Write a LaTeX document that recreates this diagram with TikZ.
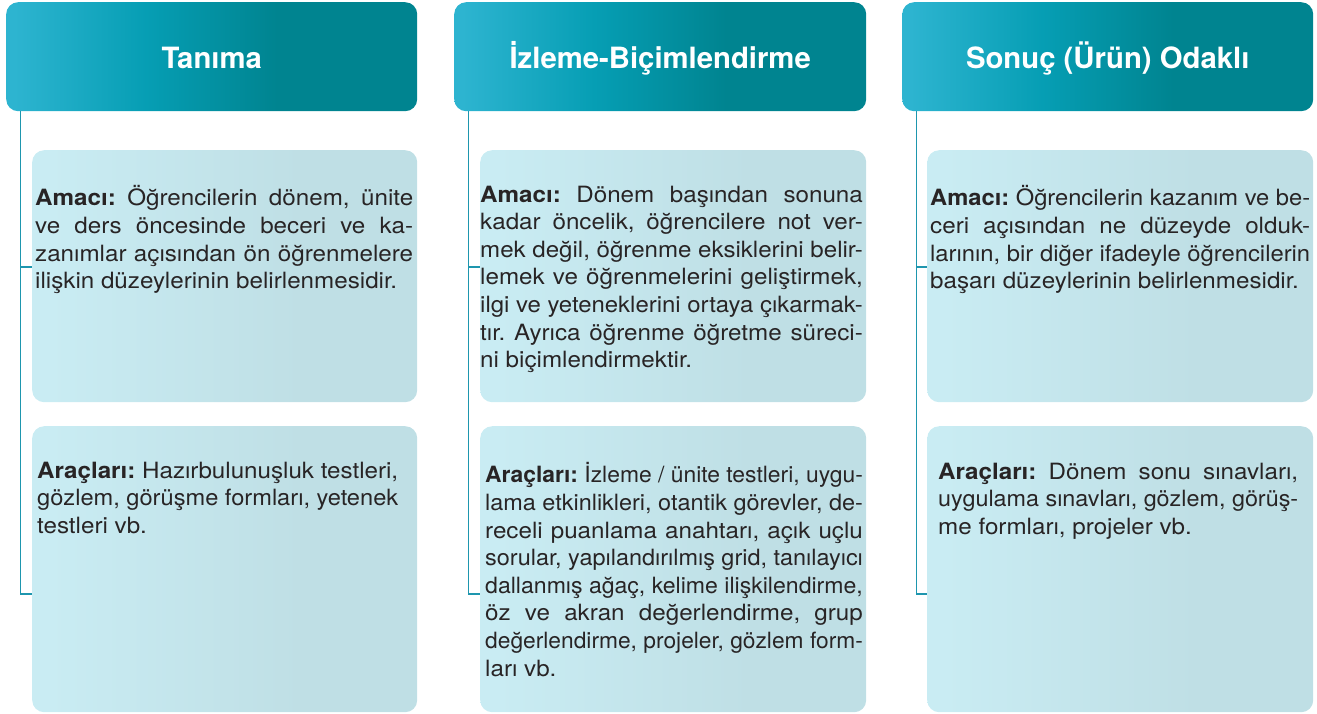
\documentclass[tikz,border=0pt]{standalone}
\usepackage{fontspec}
\usepackage{graphicx}
\setmainfont{TeX Gyre Heros}[FakeStretch=1.08]
\newfontfamily\hdrfont{TeX Gyre Heros}
\usetikzlibrary{calc}
\definecolor{hl}{RGB}{45,180,208}
\definecolor{hm}{RGB}{6,158,180}
\definecolor{hd}{RGB}{0,132,144}
\definecolor{bl}{RGB}{201,236,243}
\definecolor{bd}{RGB}{191,223,229}
\definecolor{txt}{RGB}{40,36,37}
\definecolor{conn}{RGB}{30,150,174}
\pgfdeclarehorizontalshading{hdrshade}{100bp}{color(0bp)=(hl); color(26bp)=(hl); color(42bp)=(hm); color(58bp)=(hd); color(100bp)=(hd)}
\pgfdeclarehorizontalshading{boxshade}{100bp}{color(0bp)=(bl); color(27bp)=(bl); color(60bp)=(bd); color(100bp)=(bd)}
\newdimen\natwd
\newcommand\jl[1]{\setbox0\hbox{#1}\natwd=\wd0\relax
  \ifdim\natwd>\hsize
    \pgfmathsetmacro\sratio{\hsize/\natwd}%
    \hbox to\hsize{\scalebox{\sratio}[1]{\box0}\hss}%
  \else
    \hbox to\hsize{#1}%
  \fi}
\newcommand\lastl[1]{\hbox{#1}}
\newcommand\blk[2]{\parbox[t]{#1}{\frenchspacing\fontsize{22.4}{27.6}\selectfont\color{txt}#2}}
\tikzset{
  hdrbox/.style={shading=hdrshade, rounded corners=12pt, anchor=north west, inner sep=0pt,
    minimum height=109pt},
  hdrtext/.style={anchor=base, inner sep=0pt, text=white, font=\hdrfont\fontsize{29.3}{35}\selectfont\bfseries},
  infobox/.style={shading=boxshade, rounded corners=12pt, anchor=north west, inner sep=0pt},
  infotext/.style={anchor=base west, inner sep=0pt},
  connline/.style={draw=conn, line width=1.5pt}
}
\begin{document}
\begin{tikzpicture}[x=1pt,y=-1pt]
\useasboundingbox (0,0) rectangle (1317,713);
% headers
\node[hdrbox, minimum width=411pt] (h1) at (6,2) {};
\node[hdrbox, minimum width=412pt] (h2) at (454,2) {};
\node[hdrbox, minimum width=411pt] (h3) at (902,2) {};
\node[hdrtext] (l1) at (h1.center |- 0,68.5) {Tanıma};
\node[hdrtext] (l2) at (h2.center |- 0,68.5) {İzleme-Biçimlendirme};
\node[hdrtext] (l3) at (h3.center |- 0,68.5) {Sonuç (Ürün) Odaklı};
% boxes
\node[infobox, minimum width=385pt, minimum height=252pt] (am1) at (32,150) {};
\node[infobox, minimum width=385pt, minimum height=286pt] (ar1) at (32,426) {};
\node[infobox, minimum width=386pt, minimum height=252pt] (am2) at (480,150) {};
\node[infobox, minimum width=386pt, minimum height=286pt] (ar2) at (480,426) {};
\node[infobox, minimum width=386pt, minimum height=252pt] (am3) at (927,150) {};
\node[infobox, minimum width=386pt, minimum height=286pt] (ar3) at (927,426) {};
% connectors
\foreach \c in {1,2,3}{
  \draw[connline] ($(h\c.south west)+(14.5,0)$) |- (am\c.west |- 0,267);
  \draw[connline] ($(h\c.south west)+(14.5,0)$) |- (ar\c.west |- 0,594);
}
% texts
\node[infotext] (tam1) at (35,185.7) {\blk{378pt}{%
\jl{\textbf{Amacı:} Öğrencilerin dönem, ünite}
\jl{ve ders öncesinde beceri ve ka-}
\jl{zanımlar açısından ön öğrenmelere}
\lastl{ilişkin düzeylerinin belirlenmesidir.}}};
\node[infotext] (tar1) at (37,461.7) {\blk{361pt}{%
\jl{\textbf{Araçları:} Hazırbulunuşluk testleri,}
\jl{gözlem, görüşme formları, yetenek}
\lastl{testleri vb.}}};
\node[infotext] (tam2) at (480,185.7) {\blk{382.7pt}{%
\jl{\textbf{Amacı:} Dönem başından sonuna}
\jl{kadar öncelik, öğrencilere not ver-}
\jl{mek değil, öğrenme eksiklerini belir-}
\jl{lemek ve öğrenmelerini geliştirmek,}
\jl{ilgi ve yeteneklerini ortaya çıkarmak-}
\jl{tır. Ayrıca öğrenme öğretme süreci-}
\lastl{ni biçimlendirmektir.}}};
\node[infotext] (tar2) at (485,462.7) {\blk{377.7pt}{%
\jl{\textbf{Araçları:} İzleme / ünite testleri, uygu-}
\jl{lama etkinlikleri, otantik görevler, de-}
\jl{receli puanlama anahtarı, açık uçlu}
\jl{sorular, yapılandırılmış grid, tanılayıcı}
\jl{dallanmış ağaç, kelime ilişkilendirme,}
\jl{öz ve akran değerlendirme, grup}
\jl{değerlendirme, projeler, gözlem form-}
\lastl{ları vb.}}};
\node[infotext] (tam3) at (930,185.7) {\blk{380pt}{%
\jl{\textbf{Amacı:} Öğrencilerin kazanım ve be-}
\jl{ceri açısından ne düzeyde olduk-}
\jl{larının, bir diğer ifadeyle öğrencilerin}
\lastl{başarı düzeylerinin belirlenmesidir.}}};
\node[infotext] (tar3) at (938,462.7) {\blk{360pt}{%
\jl{\textbf{Araçları:} Dönem sonu sınavları,}
\jl{uygulama sınavları, gözlem, görüş-}
\lastl{me formları, projeler vb.}}};
\end{tikzpicture}
\end{document}
